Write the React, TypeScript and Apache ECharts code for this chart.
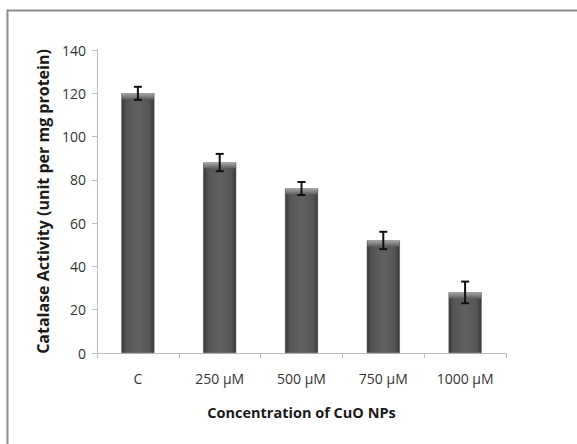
import React, { useEffect, useRef } from "react";
import * as echarts from "echarts";

const categories = ["C", "250 µM", "500 µM", "750 µM", "1000 µM"];
const activity = [120, 88, 76, 52, 28];
const errors = [3, 4, 3, 4, 5];
const yTicks = { min: 0, max: 140, interval: 20 };

export default function App() {
  const ref = useRef<HTMLDivElement>(null);
  useEffect(() => {
    const chart = echarts.init(ref.current!, null, { renderer: "svg" });
    const font = "Open Sans";
    chart.setOption({
      animation: false,
      backgroundColor: "#ffffff",
      graphic: [
        {
          type: "rect",
          shape: { x: 7.5, y: 10.5, width: 600, height: 500 },
          style: { fill: "none", stroke: "#8c8c8c", lineWidth: 2 },
          silent: true,
        },
      ],
      grid: { left: 97, right: 71, top: 50, bottom: 91 },
      xAxis: {
        type: "category",
        data: categories,
        name: "Concentration of CuO NPs",
        nameLocation: "middle",
        nameGap: 52,
        nameTextStyle: { fontFamily: font, fontWeight: "bold", fontSize: 14.5, color: "#1a1a1a" },
        axisLine: { lineStyle: { color: "#bdbdbd", width: 1 } },
        axisTick: { show: true, alignWithLabel: false, length: 5, lineStyle: { color: "#bdbdbd" } },
        axisLabel: { fontFamily: font, fontSize: 14, color: "#333", margin: 18 },
      },
      yAxis: {
        type: "value",
        min: yTicks.min,
        max: yTicks.max,
        interval: yTicks.interval,
        name: "Catalase Activity (unit per mg protein)",
        nameLocation: "middle",
        nameGap: 46,
        nameTextStyle: { fontFamily: font, fontWeight: "bold", fontSize: 16, color: "#1a1a1a" },
        axisLine: { show: true, lineStyle: { color: "#bdbdbd", width: 1 } },
        axisTick: { show: true, length: 5, lineStyle: { color: "#bdbdbd" } },
        splitLine: { show: false },
        axisLabel: { fontFamily: font, fontSize: 14, color: "#333", margin: 11 },
      },
      series: [
        {
          type: "bar",
          data: activity,
          barWidth: 33,
          itemStyle: {
            color: new echarts.graphic.LinearGradient(0, 0, 1, 0, [
              { offset: 0, color: "#3a3a3a" },
              { offset: 0.15, color: "#555555" },
              { offset: 0.5, color: "#606060" },
              { offset: 0.85, color: "#555555" },
              { offset: 1, color: "#3a3a3a" },
            ]),
            borderColor: "#444",
            borderWidth: 0.5,
          },
          z: 2,
        },
        {
          type: "custom",
          z: 3,
          data: activity.map((v, i) => [i, v, errors[i]]),
          renderItem: (params: any, api: any) => {
            const i = api.value(0);
            const v = api.value(1);
            const e = api.value(2);
            const top = api.coord([i, v + e]);
            const bot = api.coord([i, v - e]);
            const barTop = api.coord([i, v]);
            const x = top[0];
            const cap = 4;
            const style = { stroke: "#111", lineWidth: 2 };
            return {
              type: "group",
              children: [
                {
                  type: "rect",
                  shape: { x: x - 16, y: barTop[1], width: 32, height: 6 },
                  style: {
                    fill: new echarts.graphic.LinearGradient(0, 0, 0, 1, [
                      { offset: 0, color: "#a8a8a8" },
                      { offset: 1, color: "#5e5e5e" },
                    ]),
                  },
                },
                { type: "line", shape: { x1: x, y1: top[1], x2: x, y2: bot[1] }, style },
                { type: "line", shape: { x1: x - cap, y1: top[1], x2: x + cap, y2: top[1] }, style },
                { type: "line", shape: { x1: x - cap, y1: bot[1], x2: x + cap, y2: bot[1] }, style },
              ],
            };
          },
        },
      ],
    });
    return () => chart.dispose();
  }, []);
  return <div ref={ref} style={{ width: 577, height: 444, position: "absolute", left: 0, top: 0 }} />;
}
